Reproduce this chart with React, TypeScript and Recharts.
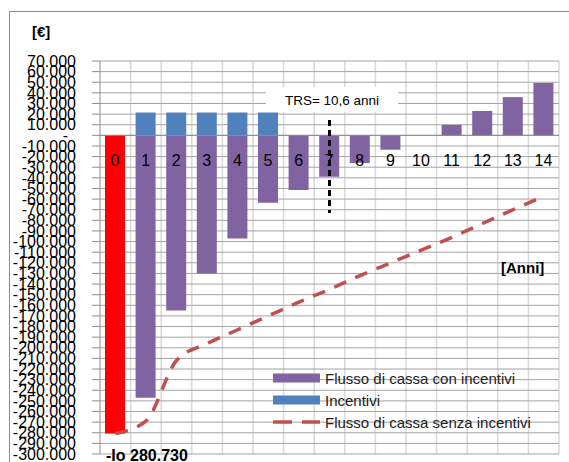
import {
  ComposedChart,
  Bar,
  Line,
  XAxis,
  YAxis,
  CartesianGrid,
  ReferenceLine,
  Legend,
  LabelList,
  Cell,
} from "recharts";

const years = ["0", "1", "2", "3", "4", "5", "6", "7", "8", "9", "10", "11", "12", "13", "14"];

const flussoConIncentivi = [
  -280730, -247000, -165000, -130000, -97000, -63500, -51500, -39000, -26000, -13500, -300, 9800, 23000, 36000,
  49300,
];

const incentivi = [0, 21500, 21500, 21500, 21500, 21500, 0, 0, 0, 0, 0, 0, 0, 0, 0];

const flussoSenzaIncentivi = [
  -280730, -269000, -212000, -196000, -183000, -170000, -157000, -145000, -132000, -120000, -108000, -96000,
  -83000, -70000, -57500,
];

const yTicks = [
  70000, 60000, 50000, 40000, 30000, 20000, 10000, 0, -10000, -20000, -30000, -40000, -50000, -60000, -70000,
  -80000, -90000, -100000, -110000, -120000, -130000, -140000, -150000, -160000, -170000, -180000, -190000,
  -200000, -210000, -220000, -230000, -240000, -250000, -260000, -270000, -280000, -290000, -300000,
];

// dashed marker drawn at the payback year
const trsMarker = { year: "7", from: 14500, to: -73000 };

const legendItems = [
  { label: "Flusso di cassa con incentivi", color: "#8064a2", kind: "bar" },
  { label: "Incentivi", color: "#4f81bd", kind: "bar" },
  { label: "Flusso di cassa senza incentivi", color: "#c0504d", kind: "line" },
];

const data = years.map((year, i) => ({
  year,
  conIncentivi: flussoConIncentivi[i],
  incentivi: incentivi[i],
  senzaIncentivi: flussoSenzaIncentivi[i],
}));

const fmt = (v: number) => {
  if (v === 0) return "-\u2002";
  const s = Math.abs(v)
    .toString()
    .replace(/\B(?=(\d{3})+(?!\d))/g, ".");
  return (v < 0 ? "-" : "") + s;
};

const CategoryLabel = (props: any) => {
  const box = props.viewBox ?? props;
  const { x, y, width, height } = box;
  const idx = Number(props.value);
  const top = Math.min(y, y + height);
  const bottom = Math.max(y, y + height);
  const zeroY = flussoConIncentivi[idx] < 0 ? top : bottom;
  return (
    <text
      x={x + width / 2}
      y={zeroY + 25}
      textAnchor="middle"
      dominantBaseline="central"
      fontSize={16}
      fill="#000"
      fontFamily="'Liberation Sans', Arial, sans-serif"
    >
      {props.value}
    </text>
  );
};

const LegendBox = () => (
  <div style={{ display: "flex", flexDirection: "column" }}>
    {legendItems.map((item) => (
      <div key={item.label} style={{ display: "flex", alignItems: "center", height: 22 }}>
        <svg width={47} height={10}>
          {item.kind === "bar" ? (
            <rect x={0} y={0.5} width={47} height={9} fill={item.color} />
          ) : (
            <line x1={0} y1={5} x2={47} y2={5} stroke={item.color} strokeWidth={3.5} strokeDasharray="19 10" />
          )}
        </svg>
        <span style={{ marginLeft: 5, fontSize: 15, color: "#222", whiteSpace: "nowrap" }}>{item.label}</span>
      </div>
    ))}
  </div>
);

export default function App() {
  return (
    <div
      style={{
        position: "absolute",
        left: 0,
        top: 0,
        width: 569,
        height: 462,
        overflow: "hidden",
        background: "#fff",
        fontFamily: "'Liberation Sans', Arial, sans-serif",
      }}
    >
      <div
        style={{
          position: "absolute",
          left: 9,
          top: 11,
          width: 600,
          height: 500,
          border: "1px solid #8e8e8e",
        }}
      />
      <ComposedChart
        width={569}
        height={462}
        data={data}
        stackOffset="sign"
        margin={{ top: 61, right: 10, bottom: 8, left: 0 }}
      >
        <CartesianGrid
          horizontal={false}
          stroke="#d9d9d9"
          strokeWidth={1.5}
          verticalCoordinatesGenerator={({ offset }: any) =>
            years.map((_, i) => offset.left + ((i + 1) * offset.width) / years.length)
          }
        />
        <CartesianGrid vertical={false} stroke="#a3a3a3" />
        <XAxis dataKey="year" hide />
        <YAxis
          type="number"
          domain={[-300000, 70000]}
          ticks={yTicks}
          interval={0}
          tickFormatter={fmt}
          width={100}
          tickSize={8}
          tickMargin={16}
          axisLine={{ stroke: "#8c8c8c" }}
          tickLine={{ stroke: "#8c8c8c" }}
          tick={{ fontSize: 16, fill: "#000" }}
        />
        <ReferenceLine y={0} stroke="#8c8c8c" />
        <Bar dataKey="conIncentivi" stackId="a" fill="#8064a2" barSize={20} isAnimationActive={false}>
          {data.map((d, i) => (
            <Cell key={d.year} fill={i === 0 ? "#ff0000" : "#8064a2"} />
          ))}
          <LabelList dataKey="year" content={CategoryLabel} />
        </Bar>
        <Bar dataKey="incentivi" stackId="a" fill="#4f81bd" barSize={20} isAnimationActive={false} />
        <Line
          type="monotone"
          dataKey="senzaIncentivi"
          stroke="#c0504d"
          strokeWidth={3.5}
          strokeDasharray="13 10"
          dot={false}
          isAnimationActive={false}
        />
        <ReferenceLine
          segment={[
            { x: trsMarker.year, y: trsMarker.from },
            { x: trsMarker.year, y: trsMarker.to },
          ]}
          stroke="#000"
          strokeWidth={3}
          strokeDasharray="6 4"
        />
        <Legend
          layout="vertical"
          align="center"
          verticalAlign="middle"
          content={LegendBox}
          wrapperStyle={{ left: 273, top: 367, width: 280 }}
        />
      </ComposedChart>

      <div
        style={{
          position: "absolute",
          left: 266,
          top: 87,
          width: 132,
          height: 25,
          background: "#fff",
          fontSize: 13.5,
          lineHeight: "27px",
          textAlign: "center",
          color: "#000",
        }}
      >
        TRS= 10,6 anni
      </div>
      <div style={{ position: "absolute", left: 32, top: 22, fontSize: 15, fontWeight: "bold", lineHeight: "19px" }}>
        [€]
      </div>
      <div style={{ position: "absolute", left: 501, top: 258, fontSize: 15, fontWeight: "bold", lineHeight: "19px" }}>
        [Anni]
      </div>
      <div style={{ position: "absolute", left: 106, top: 447, fontSize: 16, fontWeight: "bold", lineHeight: "18px" }}>
        -Io 280.730
      </div>
    </div>
  );
}
